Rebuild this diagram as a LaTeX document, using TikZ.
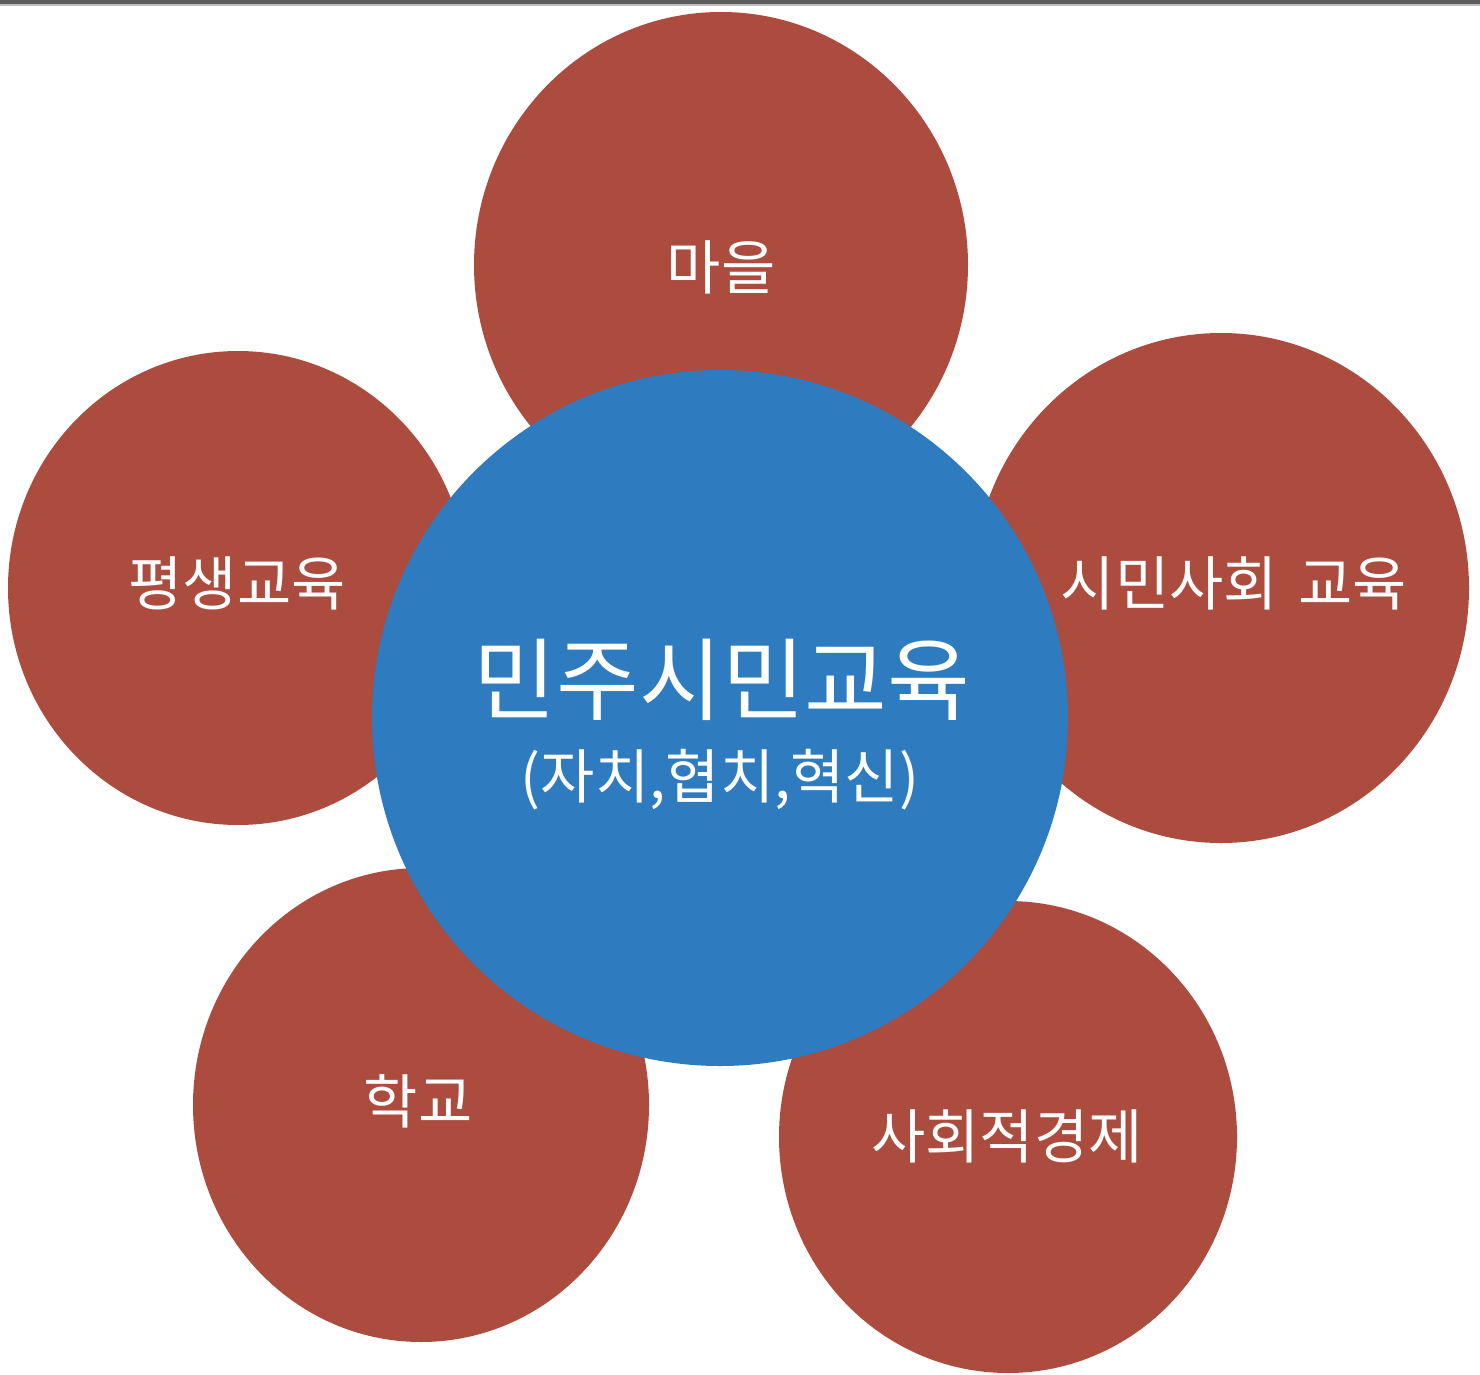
\documentclass[tikz,border=0pt]{standalone}
\usepackage{fontspec}
\setmainfont{Noto Sans CJK KR}
\usetikzlibrary{shapes.geometric}
\definecolor{redc}{RGB}{172,76,62}
\definecolor{bluec}{RGB}{46,123,192}
\definecolor{barc}{RGB}{92,92,92}
\definecolor{barl}{RGB}{190,190,190}
\tikzset{
  petal/.style={ellipse, fill=redc, draw=none, inner sep=0pt, outer sep=0pt},
  hub/.style={circle, fill=bluec, draw=none, inner sep=0pt, outer sep=0pt, minimum size=696pt},
  ptext/.style={text=white, inner sep=0pt, font=\fontsize{59}{64}\selectfont},
  htext/.style={text=white, inner sep=0pt, font=\fontsize{90}{96}\selectfont},
  stext/.style={text=white, inner sep=0pt, font=\fontsize{59}{64}\selectfont}
}
\begin{document}
\begin{tikzpicture}[x=1pt,y=-1pt]
\fill[white] (0,0) rectangle (1480,1375);
\useasboundingbox (0,0) rectangle (1480,1375);
\fill[barc] (0,0) rectangle (1480,4);
\fill[barl] (0,4) rectangle (1480,6);
% outer circles
\node[petal, minimum width=494pt, minimum height=506pt] (maeul) at (721,265) {};
\node[petal, minimum width=460pt, minimum height=474pt] (pyeong) at (238,588) {};
\node[petal, minimum width=496pt, minimum height=510pt] (simin) at (1221,588) {};
\node[petal, minimum width=456pt, minimum height=474pt] (hakgyo) at (421,1105) {};
\node[petal, minimum width=458pt, minimum height=472pt] (sahoe) at (1008,1137) {};
% hub
\node[hub] (hub) at (720,718) {};
% labels
\node[ptext] (maeulT) at (721,267) {마을};
\node[ptext] (pyeongT) at (237,583) {평생교육};
\node[ptext] (siminT) at (1234,583) {시민사회\hspace{0.35em}교육};
\node[ptext] (hakgyoT) at (418,1101) {학교};
\node[ptext] (sahoeT) at (1007,1136) {사회적경제};
\node[htext] (hubT) at (722,680) {민주시민교육};
\node[stext] (hubS) at (720,780) {(자치,협치,혁신)};
\end{tikzpicture}
\end{document}
